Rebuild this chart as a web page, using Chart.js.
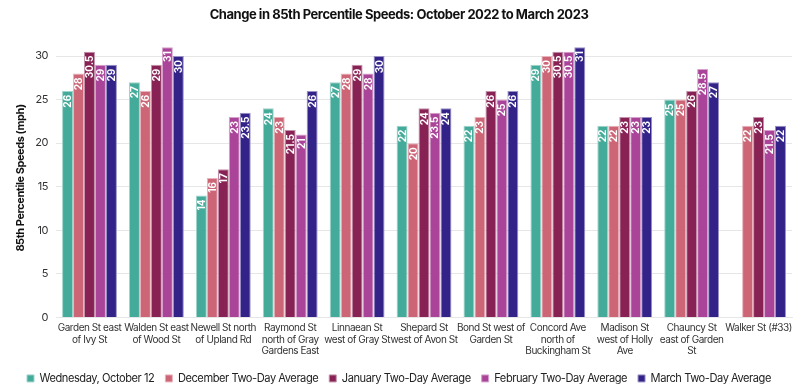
<!DOCTYPE html>
<html>
<head>
<meta charset="utf-8">
<script src="https://cdn.jsdelivr.net/npm/chart.js@4"></script>
<style>
	html, body { margin: 0; padding: 0; background: #fff; }
	#wrap { width: 800px; height: 392px; }
</style>
</head>
<body>
<div id="wrap"><canvas id="speedChart"></canvas></div>
<script>
// Locations (x categories)
const locations = [
	["Garden St east", "of Ivy St"],
	["Walden St east", "of Wood St"],
	["Newell St north", "of Upland Rd"],
	["Raymond St", "north of Gray", "Gardens East"],
	["Linnaean St", "west of Gray St"],
	["Shepard St", "west of Avon St"],
	["Bond St west of", "Garden St"],
	["Concord Ave", "north of", "Buckingham St"],
	["Madison St", "west of Holly", "Ave"],
	["Chauncy St", "east of Garden", "St"],
	["Walker St (#33)"],
];

const seriesNames = [
	"Wednesday, October 12",
	"December Two-Day Average",
	"January Two-Day Average",
	"February Two-Day Average",
	"March Two-Day Average",
];

const october = [26, 27, 14, 24, 27, 22, 22, 29, 22, 25, null];
const december = [28, 26, 16, 23, 28, 20, 23, 30, 22, 25, 22];
const january = [30.5, 29, 17, 21.5, 29, 24, 26, 30.5, 23, 26, 23];
const february = [29, 31, 23, 21, 28, 23.5, 25, 30.5, 23, 28.5, 21.5];
const march = [29, 30, 23.5, 26, 30, 24, 26, 31, 23, 27, 22];

const yTicks = [0, 5, 10, 15, 20, 25, 30];

const colors = ["#44AA99", "#CC6677", "#882255", "#AA4499", "#332288"];
const borders = ["#9fd4cb", "#e8b3bb", "#c391aa", "#d5a2cc", "#9991c4"];

const FONT = "Inter, 'Noto Sans', sans-serif";

// Tighter tracking, like the reference typeface
const tightText = {
	id: "tightText",
	beforeUpdate(chart) { chart.ctx.letterSpacing = "-0.45px"; },
	beforeLayout(chart) { chart.ctx.letterSpacing = "-0.45px"; },
	beforeDraw(chart) { chart.ctx.letterSpacing = "-0.45px"; },
};

// Value labels drawn rotated inside the top of each bar
const barValueLabels = {
	id: "barValueLabels",
	afterDatasetsDraw(chart) {
		const ctx = chart.ctx;
		ctx.save();
		ctx.letterSpacing = "0px";
		ctx.font = "bold 10px " + FONT;
		ctx.fillStyle = "#ffffff";
		ctx.textAlign = "right";
		ctx.textBaseline = "middle";
		chart.data.datasets.forEach(function (ds, i) {
			const meta = chart.getDatasetMeta(i);
			meta.data.forEach(function (bar, j) {
				const v = ds.data[j];
				if (v === null || v === undefined) return;
				ctx.save();
				ctx.translate(bar.x, bar.y + 4);
				ctx.rotate(-Math.PI / 2);
				ctx.fillText(String(v), 0, 0.5);
				ctx.restore();
			});
		});
		ctx.restore();
	},
};

document.addEventListener("DOMContentLoaded", function () {
	const seriesData = [october, december, january, february, march];
	new Chart(document.getElementById("speedChart"), {
		type: "bar",
		data: {
			labels: locations,
			datasets: seriesData.map(function (d, i) {
				return {
					label: seriesNames[i],
					data: d,
					backgroundColor: colors[i],
					borderColor: borders[i],
					borderWidth: 1,
					borderSkipped: "bottom",
					categoryPercentage: 0.82,
					barPercentage: 1.0,
				};
			}),
		},
		options: {
			responsive: true,
			maintainAspectRatio: false,
			animation: false,
			layout: { padding: { left: 6, right: 8, top: 0, bottom: -2 } },
			plugins: {
				title: {
					display: true,
					text: "Change in 85th Percentile Speeds: October 2022 to March 2023",
					color: "#111",
					font: { family: FONT, size: 13, weight: "bold" },
					padding: { top: 7, bottom: 16 },
				},
				legend: {
					position: "bottom",
					labels: {
						boxWidth: 7,
						boxHeight: 7,
						padding: 11,
						color: "#222",
						font: { family: FONT, size: 11.1 },
					},
				},
				tooltip: { enabled: false },
			},
			scales: {
				y: {
					min: 0,
					max: 32,
					afterBuildTicks: function (axis) {
						axis.ticks = yTicks.map(function (v) { return { value: v }; });
					},
					grid: { color: "#e6e6e6", drawTicks: false },
					border: { display: false },
					ticks: {
						color: "#333",
						padding: 8,
						font: { family: FONT, size: 11 },
					},
					title: {
						display: true,
						text: "85th Percentile Speeds (mph)",
						color: "#111",
						padding: { top: 8, bottom: 0 },
						font: { family: FONT, size: 11, weight: "bold" },
					},
				},
				x: {
					grid: { display: false, drawTicks: false },
					border: { color: "#e6e6e6" },
					ticks: {
						color: "#333",
						maxRotation: 0,
						autoSkip: false,
						padding: 5,
						font: { family: FONT, size: 10, lineHeight: 1.15 },
					},
				},
			},
		},
		plugins: [tightText, barValueLabels],
	});
});
</script>
</body>
</html>
